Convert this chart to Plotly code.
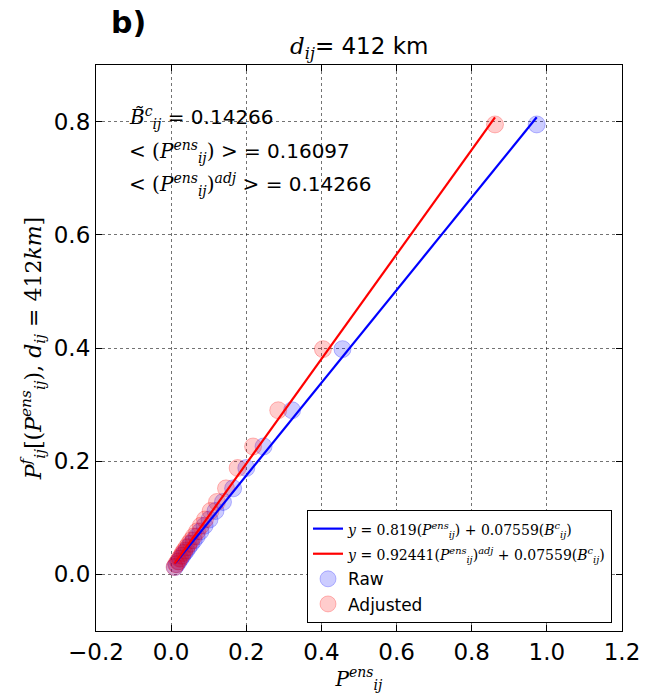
import plotly.graph_objects as go

# Data
raw_x = [0.973, 0.456, 0.322, 0.246, 0.200, 0.165, 0.138, 0.118, 0.102, 0.089, 0.078,
         0.068, 0.060, 0.053, 0.046, 0.040, 0.035, 0.030, 0.025, 0.020, 0.015, 0.010]
adj_x = [0.862, 0.404, 0.285, 0.218, 0.177, 0.146, 0.122, 0.105, 0.090, 0.079, 0.069,
         0.060, 0.053, 0.047, 0.041, 0.035, 0.031, 0.027, 0.022, 0.018, 0.013, 0.009]
y_vals = [0.795, 0.398, 0.290, 0.226, 0.188, 0.152, 0.128, 0.112, 0.097, 0.086, 0.076,
          0.067, 0.060, 0.054, 0.048, 0.042, 0.038, 0.033, 0.028, 0.023, 0.018, 0.013]

slope_raw = 0.819
slope_adj = 0.92441
coef_b = 0.07559
b_c = 0.14266
mean_raw = 0.16097
mean_adj = 0.14266

x_ticks = [-0.2, 0.0, 0.2, 0.4, 0.6, 0.8, 1.0, 1.2]
y_ticks = [0.0, 0.2, 0.4, 0.6, 0.8]

intercept = coef_b * b_c
raw_line_x = [min(raw_x), max(raw_x)]
adj_line_x = [min(adj_x), max(adj_x)]

SERIF = "DejaVu Serif"
SANS = "DejaVu Sans"

fig = go.Figure()

fig.add_trace(go.Scatter(
    x=raw_x, y=y_vals, mode="markers", name="Raw", legendrank=3,
    marker=dict(size=17, color="rgba(0,0,255,0.2)",
                line=dict(color="rgba(0,0,255,0.25)", width=1))))
fig.add_trace(go.Scatter(
    x=adj_x, y=y_vals, mode="markers", name="Adjusted", legendrank=4,
    marker=dict(size=17, color="rgba(255,0,0,0.2)",
                line=dict(color="rgba(255,0,0,0.25)", width=1))))
fig.add_trace(go.Scatter(
    x=raw_line_x, y=[slope_raw * v + intercept for v in raw_line_x],
    mode="lines", line=dict(color="#0000ff", width=2.2), legendrank=1,
    name="<span style='font-family:DejaVu Serif;font-size:14px'><i>y</i> = 0.819(<i>P</i><sup><i>ens</i></sup><sub><i>ij</i></sub>) + 0.07559(<i>B</i><sup><i>c</i></sup><sub><i>ij</i></sub>)</span>"))
fig.add_trace(go.Scatter(
    x=adj_line_x, y=[slope_adj * v + intercept for v in adj_line_x],
    mode="lines", line=dict(color="#ff0000", width=2.2), legendrank=2,
    name="<span style='font-family:DejaVu Serif;font-size:14px'><i>y</i> = 0.92441(<i>P</i><sup><i>ens</i></sup><sub><i>ij</i></sub>)<sup><i>adj</i></sup> + 0.07559(<i>B</i><sup><i>c</i></sup><sub><i>ij</i></sub>)</span>"))

axis_common = dict(
    showline=True, linecolor="black", linewidth=1.2, mirror="ticks",
    ticks="inside", ticklen=6, tickcolor="black",
    showgrid=True, gridcolor="rgba(0,0,0,0.55)", griddash="dot", gridwidth=1,
    zeroline=False, tickformat=".1f",
    tickfont=dict(family=SANS, size=23, color="black"),
)

fig.update_xaxes(range=[-0.2, 1.2], tickvals=x_ticks, **axis_common,
                 title=dict(text="<i>P</i><sup><i>ens</i></sup><sub><i>ij</i></sub>",
                            font=dict(family=SERIF, size=20, color="black"), standoff=0))
fig.update_yaxes(range=[-0.1, 0.9], tickvals=y_ticks, **axis_common,
                 title=dict(text="<i>P</i><sup><i>f</i></sup><sub><i>ij</i></sub>[(<i>P</i><sup><i>ens</i></sup><sub><i>ij</i></sub>), <i>d</i><sub><i>ij</i></sub> = 412<i>km</i>]",
                            font=dict(family=SERIF, size=22, color="black"), standoff=6))

ann_font = dict(family=SANS, size=20, color="black")
fig.add_annotation(xref="paper", yref="paper", x=0.058, y=0.907, xanchor="left", yanchor="middle",
                   showarrow=False, font=ann_font,
                   text="<span style='font-family:DejaVu Serif'><i>B̃</i><sup><i>c</i></sup><sub><i>ij</i></sub></span> = %.5f" % b_c)
fig.add_annotation(xref="paper", yref="paper", x=0.058, y=0.848, xanchor="left", yanchor="middle",
                   showarrow=False, font=ann_font,
                   text="<span style='font-family:DejaVu Serif'>&lt; (<i>P</i><sup><i>ens</i></sup><sub><i>ij</i></sub>) &gt;</span> = %.5f" % mean_raw)
fig.add_annotation(xref="paper", yref="paper", x=0.058, y=0.788, xanchor="left", yanchor="middle",
                   showarrow=False, font=ann_font,
                   text="<span style='font-family:DejaVu Serif'>&lt; (<i>P</i><sup><i>ens</i></sup><sub><i>ij</i></sub>)<sup><i>adj</i></sup> &gt;</span> = %.5f" % mean_adj)

fig.add_annotation(xref="paper", yref="paper", x=0.5, y=1.0, xanchor="center", yanchor="bottom",
                   showarrow=False, font=dict(family=SANS, size=23, color="black"),
                   text="<span style='font-family:DejaVu Serif'><i>d</i><sub><i>ij</i></sub></span>= 412 km")
fig.add_annotation(xref="paper", yref="paper", x=0.024, y=1.04, xanchor="left", yanchor="bottom",
                   showarrow=False, font=dict(family=SANS, size=30, color="black"),
                   text="<b>b)</b>")

fig.update_layout(
    width=654, height=693,
    margin=dict(l=96, r=32, t=65, b=62),
    paper_bgcolor="white", plot_bgcolor="white",
    showlegend=True,
    legend=dict(x=0.981, y=0.014, xanchor="right", yanchor="bottom",
                bgcolor="white", bordercolor="black", borderwidth=1,
                font=dict(family=SANS, size=17, color="black"),
                tracegroupgap=0, itemwidth=30),
)

fig.write_html("out.html")
